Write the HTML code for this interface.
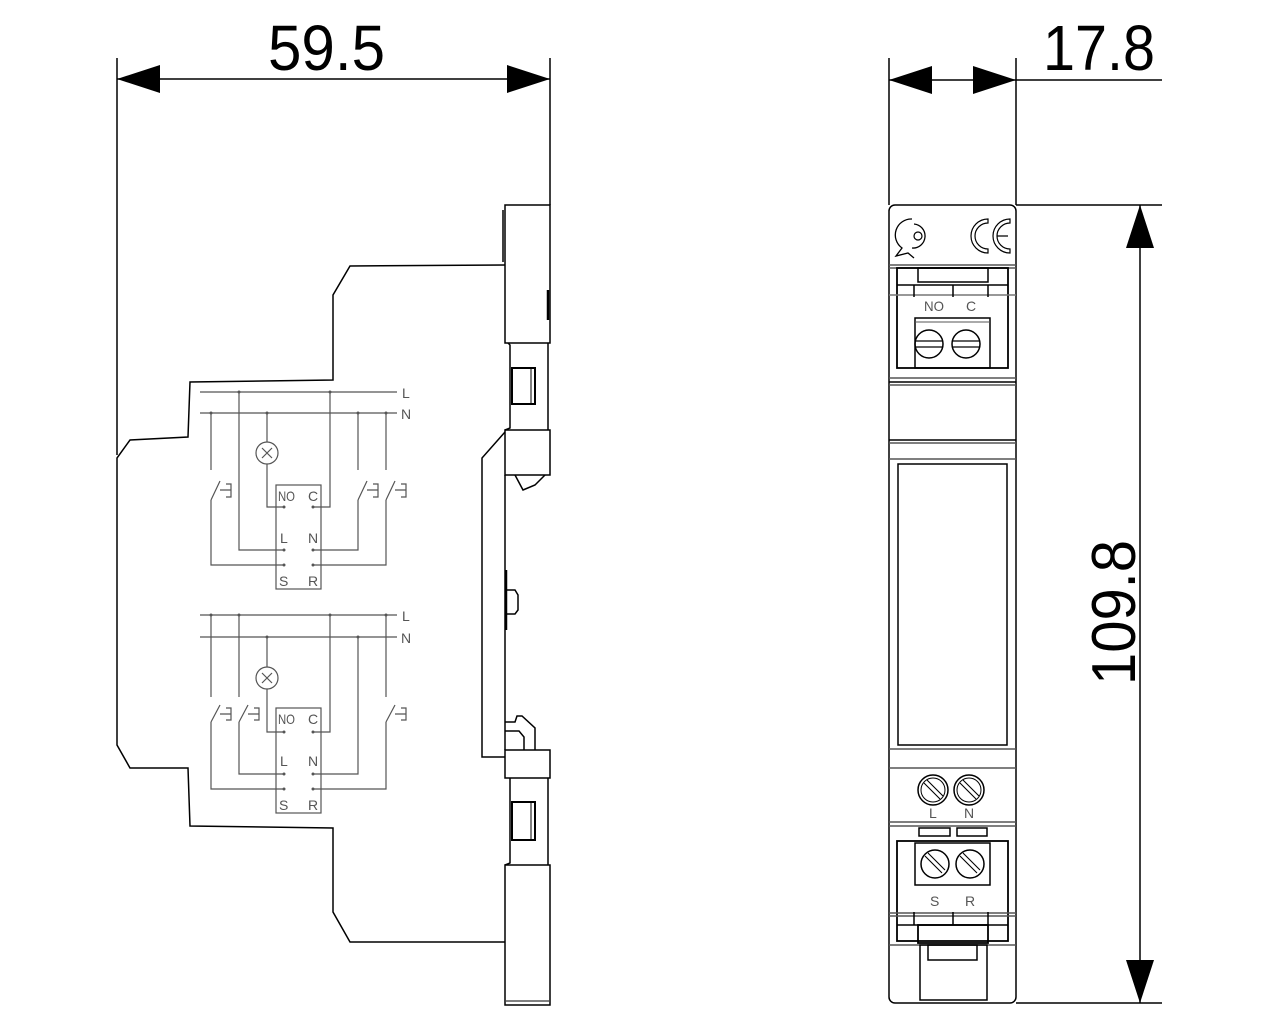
<!DOCTYPE html>
<html><head><meta charset="utf-8"><style>html,body{margin:0;padding:0;background:#fff}svg{display:block}</style></head>
<body>
<svg width="1280" height="1024" viewBox="0 0 1280 1024" xmlns="http://www.w3.org/2000/svg" font-family="Liberation Sans, sans-serif">
<rect width="1280" height="1024" fill="#fff"/>
<g stroke="#000" stroke-width="1.5" fill="none">
<line x1="117" y1="58" x2="117" y2="455"/>
<line x1="550" y1="58" x2="550" y2="205"/>
<line x1="117" y1="79" x2="550" y2="79"/>
</g>
<polygon points="117,79 160,65 160,93" fill="#000"/>
<polygon points="550,79 507,65 507,93" fill="#000"/>
<text x="268" y="70" font-size="64" textLength="117" lengthAdjust="spacingAndGlyphs">59.5</text>

<g stroke="#000" stroke-width="1.5" fill="none">
<path d="M505,265 L350,266 L333,295 L333,380 L190,382 L188,437 L130,440 L117,458 L117,745 L130,768 L188,768 L190,826 L333,828 L333,912 L350,942 L505,942"/>
<rect x="505" y="205" width="45" height="138"/>
<line x1="503" y1="210" x2="503" y2="262"/>
<line x1="548" y1="290" x2="548" y2="320" stroke-width="2.5"/>
<path d="M508,343 L510,345 L510,428 L505,430 M548,343 L548,430"/>
<rect x="512" y="368" width="23" height="36" stroke-width="2"/>
<line x1="531" y1="368" x2="531" y2="404" stroke-width="1"/>
<rect x="505" y="430" width="45" height="45"/>
<path d="M515,475 L523,490 L535,485 L545,475"/>
<path d="M505,432 L482,458 L482,757 L505,757"/>
<line x1="505" y1="475" x2="505" y2="750"/>
<path d="M505,590 L515,590 L518,595 L518,610 L515,614 L505,614"/>
<line x1="506" y1="570" x2="506" y2="630" stroke-width="2.5"/>
<path d="M505,722 L515,722 L517,716 L522,716 L535,728 L535,750"/>
<path d="M505,731 L519,731 L524,737 L524,750"/>
<rect x="505" y="750" width="45" height="28"/>
<path d="M510,778 L510,863 L505,865 M548,778 L548,865"/>
<rect x="512" y="802" width="23" height="38" stroke-width="2"/>
<line x1="531" y1="802" x2="531" y2="840" stroke-width="1"/>
<rect x="505" y="865" width="45" height="140"/>
<line x1="506" y1="1001" x2="549" y2="1001" stroke-width="1"/>
</g>

<g stroke="#555" stroke-width="1.2" fill="none">
<line x1="200" y1="392" x2="397" y2="392"/>
<line x1="200" y1="413" x2="397" y2="413"/>
<path d="M211,413 V470 M211,500 V565 H284"/>
<path d="M239,392 V550 H284"/>
<path d="M267,413 V442 M267,464 V507 H284"/>
<circle cx="267" cy="453" r="11"/>
<path d="M262,448 L272,458 M272,448 L262,458"/>
<path d="M330,392 V507 H313"/>
<path d="M358,413 V470 M358,500 V550 H313"/>
<path d="M386,413 V470 M386,500 V565 H313"/>
<rect x="276" y="485" width="45" height="104"/>
<path d="M211,500 L220,481 M220,490 H226 M226,484 H231 V497 H226 M226,490 H231"/>
<path d="M358,500 L367,481 M367,490 H373 M373,484 H378 V497 H373 M373,490 H378"/>
<path d="M386,500 L395,481 M395,490 H401 M401,484 H406 V497 H401 M401,490 H406"/>
<line x1="200" y1="615" x2="397" y2="615"/>
<line x1="200" y1="637" x2="397" y2="637"/>
<path d="M211,615 V697 M211,722 V789 H284"/>
<path d="M239,615 V697 M239,722 V774 H284"/>
<path d="M267,637 V667 M267,689 V732 H284"/>
<circle cx="267" cy="678" r="11"/>
<path d="M262,673 L272,683 M272,673 L262,683"/>
<path d="M330,615 V732 H313"/>
<path d="M358,637 V774 H313"/>
<path d="M386,615 V697 M386,722 V789 H313"/>
<rect x="276" y="708" width="45" height="105"/>
<path d="M211,722 L220,705 M220,714 H226 M226,708 H231 V720 H226 M226,714 H231"/>
<path d="M239,722 L248,705 M248,714 H254 M254,708 H259 V720 H254 M254,714 H259"/>
<path d="M386,722 L395,705 M395,714 H401 M401,708 H406 V720 H401 M401,714 H406"/>
</g>
<g fill="#555">
<circle cx="239" cy="392" r="1.5"/><circle cx="330" cy="392" r="1.5"/><circle cx="211" cy="413" r="1.5"/><circle cx="267" cy="413" r="1.5"/><circle cx="358" cy="413" r="1.5"/><circle cx="386" cy="413" r="1.5"/>
<circle cx="284" cy="507" r="1.5"/><circle cx="313" cy="507" r="1.5"/><circle cx="284" cy="550" r="1.5"/><circle cx="313" cy="550" r="1.5"/><circle cx="284" cy="565" r="1.5"/><circle cx="313" cy="565" r="1.5"/>
<circle cx="211" cy="615" r="1.5"/><circle cx="239" cy="615" r="1.5"/><circle cx="330" cy="615" r="1.5"/><circle cx="386" cy="615" r="1.5"/><circle cx="267" cy="637" r="1.5"/><circle cx="358" cy="637" r="1.5"/>
<circle cx="284" cy="732" r="1.5"/><circle cx="313" cy="732" r="1.5"/><circle cx="284" cy="774" r="1.5"/><circle cx="313" cy="774" r="1.5"/><circle cx="284" cy="789" r="1.5"/><circle cx="313" cy="789" r="1.5"/>
</g>
<g fill="#555" font-size="14" font-family="Liberation Sans, sans-serif">
<text x="402" y="398">L</text><text x="401" y="419">N</text>
<text x="278" y="501" textLength="17" lengthAdjust="spacingAndGlyphs">NO</text><text x="308" y="501">C</text>
<text x="280" y="543">L</text><text x="308" y="543">N</text>
<text x="279" y="586">S</text><text x="308" y="586">R</text>
<text x="402" y="621">L</text><text x="401" y="643">N</text>
<text x="278" y="724" textLength="17" lengthAdjust="spacingAndGlyphs">NO</text><text x="308" y="724">C</text>
<text x="280" y="766">L</text><text x="308" y="766">N</text>
<text x="279" y="810">S</text><text x="308" y="810">R</text>
</g>

<g stroke="#000" stroke-width="1.5" fill="none">
<line x1="889" y1="58" x2="889" y2="205"/>
<line x1="1016" y1="58" x2="1016" y2="205"/>
<line x1="889" y1="80" x2="1162" y2="80"/>
<line x1="1016" y1="205" x2="1162" y2="205"/>
<line x1="1016" y1="1003" x2="1162" y2="1003"/>
<line x1="1140" y1="205" x2="1140" y2="1003"/>
</g>
<polygon points="889,80 932,66 932,94" fill="#000"/>
<polygon points="1016,80 973,66 973,94" fill="#000"/>
<polygon points="1140,205 1126,248 1154,248" fill="#000"/>
<polygon points="1140,1003 1126,960 1154,960" fill="#000"/>
<text x="1043" y="70" font-size="64" textLength="112" lengthAdjust="spacingAndGlyphs">17.8</text>
<text transform="translate(1135,685) rotate(-90)" x="0" y="0" font-size="62" textLength="145" lengthAdjust="spacingAndGlyphs">109.8</text>

<g stroke="#000" stroke-width="1.5" fill="none">
<rect x="889" y="205" width="127" height="798" rx="6"/>
<!-- logos -->
<path d="M912,219 A16,16 0 0 0 902,248 L896,256 L908,253 L914,258 M914,224 A11,11 0 1 1 912,248" stroke-width="1.3"/>
<circle cx="918" cy="236" r="4" stroke-width="1.2"/>
<path d="M988,219 A17,17 0 0 0 988,253 L988,249 A13,13 0 0 1 988,223 Z" stroke-width="1.2"/>
<path d="M1010,219 A17,17 0 0 0 1010,253 L1010,249 A13,13 0 0 1 1010,223 Z M997,236 H1008" stroke-width="1.2"/>
<line x1="889" y1="265" x2="1016" y2="265" stroke="#555"/>
<line x1="889" y1="268" x2="1016" y2="268" stroke="#555"/>
<rect x="897" y="268" width="111" height="100" stroke-width="1.8"/>
<rect x="918" y="268" width="70" height="14"/>
<line x1="897" y1="285" x2="1008" y2="285"/>
<line x1="889" y1="295" x2="1016" y2="295" stroke="#777"/>
<path d="M914,285 V297 M953,285 V297 M988,285 V297"/>
<rect x="915" y="318" width="75" height="50"/>
<line x1="915" y1="322" x2="990" y2="322" stroke="#555" stroke-width="1"/>
<circle cx="929" cy="344" r="14"/><circle cx="966" cy="344" r="14"/>
<path d="M915,341 H943 M915,347 H943 M952,341 H980 M952,347 H980" stroke-width="1.2"/>
<line x1="889" y1="378" x2="1016" y2="378" stroke="#555"/>
<line x1="889" y1="382" x2="1016" y2="382"/>
<line x1="889" y1="385" x2="1016" y2="385" stroke="#555"/>
<line x1="889" y1="440" x2="1016" y2="440"/>
<line x1="889" y1="443" x2="1016" y2="443" stroke="#555"/>
<line x1="889" y1="459" x2="1016" y2="459" stroke="#555"/>
<rect x="898" y="464" width="109" height="281"/>
<line x1="889" y1="749" x2="1016" y2="749" stroke="#555"/>
<line x1="889" y1="768" x2="1016" y2="768" stroke="#555"/>
<circle cx="933" cy="790" r="15"/><circle cx="933" cy="790" r="12" stroke-width="1"/>
<circle cx="969" cy="790" r="15"/><circle cx="969" cy="790" r="12" stroke-width="1"/>
<path d="M924,783 L940,799 M927,780 L943,796 M960,783 L976,799 M963,780 L979,796" stroke-width="1.1"/>
<line x1="889" y1="822" x2="1016" y2="822" stroke="#555"/>
<line x1="889" y1="826" x2="1016" y2="826" stroke="#555"/>
<rect x="919" y="828" width="31" height="8"/>
<rect x="957" y="828" width="30" height="8"/>
<rect x="897" y="841" width="111" height="100" stroke-width="1.8"/>
<rect x="915" y="843" width="75" height="42"/>
<circle cx="935" cy="864" r="14"/><circle cx="970" cy="864" r="14"/>
<path d="M925,856 L942,873 M928,853 L945,870 M960,856 L977,873 M963,853 L980,870" stroke-width="1.1"/>
<line x1="889" y1="913" x2="1016" y2="913" stroke="#555"/>
<line x1="889" y1="916" x2="1016" y2="916" stroke="#555"/>
<path d="M914,912 V925 M953,912 V925 M988,912 V925"/>
<line x1="897" y1="925" x2="1008" y2="925"/>
<rect x="918" y="925" width="70" height="18" stroke-width="1.8"/>
<line x1="889" y1="945" x2="1016" y2="945" stroke="#555"/>
<rect x="920" y="945" width="67" height="55"/>
<rect x="928" y="945" width="49" height="15"/>
</g>
<g fill="#555" font-size="14">
<text x="924" y="311" textLength="20" lengthAdjust="spacingAndGlyphs">NO</text>
<text x="966" y="311">C</text>
<text x="929" y="818">L</text><text x="964" y="818">N</text>
<text x="930" y="906">S</text><text x="965" y="906">R</text>
</g>
</svg>
</body></html>
